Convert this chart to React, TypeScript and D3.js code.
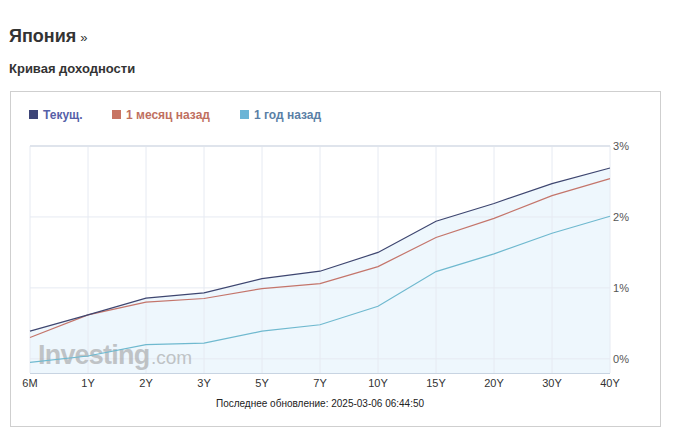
import React from "react";
import * as d3 from "d3";

const categories = ["6M", "1Y", "2Y", "3Y", "5Y", "7Y", "10Y", "15Y", "20Y", "30Y", "40Y"];
const current = [0.39, 0.62, 0.855, 0.93, 1.13, 1.235, 1.5, 1.94, 2.19, 2.47, 2.69];
const monthAgo = [0.3, 0.62, 0.8, 0.85, 0.99, 1.06, 1.3, 1.71, 1.98, 2.3, 2.54];
const yearAgo = [-0.05, 0.04, 0.2, 0.22, 0.39, 0.48, 0.74, 1.23, 1.48, 1.77, 2.01];
const yTicks = [0, 1, 2, 3];
const seriesNames = ["Текущ.", "1 месяц назад", "1 год назад"];

const W = 676, H = 447;
const left = 30, right = 610, top = 146, bottom = 373;

export default function App() {
  const x = d3.scalePoint<string>().domain(categories).range([left, right]);
  const y = d3.scaleLinear().domain([-0.2, 3]).range([bottom, top]);
  const line = d3.line<number>().x((_, i) => x(categories[i])!).y((d) => y(d));
  const area = d3.area<number>().x((_, i) => x(categories[i])!).y0(bottom).y1((d) => y(d));
  const font = "'Liberation Sans', Arial, sans-serif";
  const series = [
    { name: seriesNames[2], data: yearAgo, color: "#6fb9cf", sq: "#6ab4d6", text: "#5a7fa6" },
    { name: seriesNames[1], data: monthAgo, color: "#c4756b", sq: "#c87463", text: "#c0705f" },
    { name: seriesNames[0], data: current, color: "#3e4670", sq: "#3d4577", text: "#5560a8" },
  ];
  const legend = [
    { s: series[2], x: 29 },
    { s: series[1], x: 112 },
    { s: series[0], x: 240 },
  ];
  return (
    <svg width={W} height={H} style={{ position: "absolute", left: 0, top: 0, fontFamily: font }}>
      <rect x={0} y={0} width={W} height={H} fill="#fff" />
      <text x={9} y={42} fontSize={18} fontWeight="bold" fill="#333">
        Япония<tspan fontSize={13} fontWeight="normal" dx={4}>»</tspan>
      </text>
      <text x={9} y={73} fontSize={13} fontWeight="bold" fill="#333">Кривая доходности</text>
      <rect x={10.5} y={91.5} width={650} height={335} fill="none" stroke="#cfcfcf" />
      {legend.map((l, i) => (
        <g key={i}>
          <rect x={l.x} y={110} width={9} height={9} fill={l.s.sq} />
          <text x={l.x + 14} y={119} fontSize={12} fontWeight="bold" fill={l.s.text}>{l.s.name}</text>
        </g>
      ))}
      <path d={area(current)!} fill="#eef7fd" />
      {categories.map((c) => (
        <line key={c} x1={x(c)} x2={x(c)} y1={top} y2={bottom} stroke="#e6eaf2" />
      ))}
      {yTicks.map((t) => (
        <line key={t} x1={left} x2={right} y1={y(t)} y2={y(t)} stroke={t === 3 ? "#dfe4ec" : "#e6eaf2"} strokeWidth={t === 3 ? 2 : 1} />
      ))}
      <line x1={left} x2={right} y1={bottom + 0.5} y2={bottom + 0.5} stroke="#c8d4e2" />
      <g opacity={0.55}>
        <text x={38} y={364} fontSize={27} fontWeight="bold" fill="#9a9a9a" letterSpacing={-0.8}>Investing</text>
        <text x={151} y={364} fontSize={19} fill="#9a9a9a">.com</text>
      </g>
      {series.map((s) => (
        <path key={s.name} d={line(s.data)!} fill="none" stroke={s.color} strokeWidth={1.2} />
      ))}
      {yTicks.map((t) => (
        <text key={t} x={613} y={y(t) + 4} fontSize={11} fill="#555">{t}%</text>
      ))}
      {categories.map((c) => (
        <text key={c} x={x(c)} y={387} fontSize={11} fill="#333" textAnchor="middle">{c}</text>
      ))}
      <text x={320} y={407} fontSize={10} fill="#222" textAnchor="middle">Последнее обновление: 2025-03-06 06:44:50</text>
    </svg>
  );
}
